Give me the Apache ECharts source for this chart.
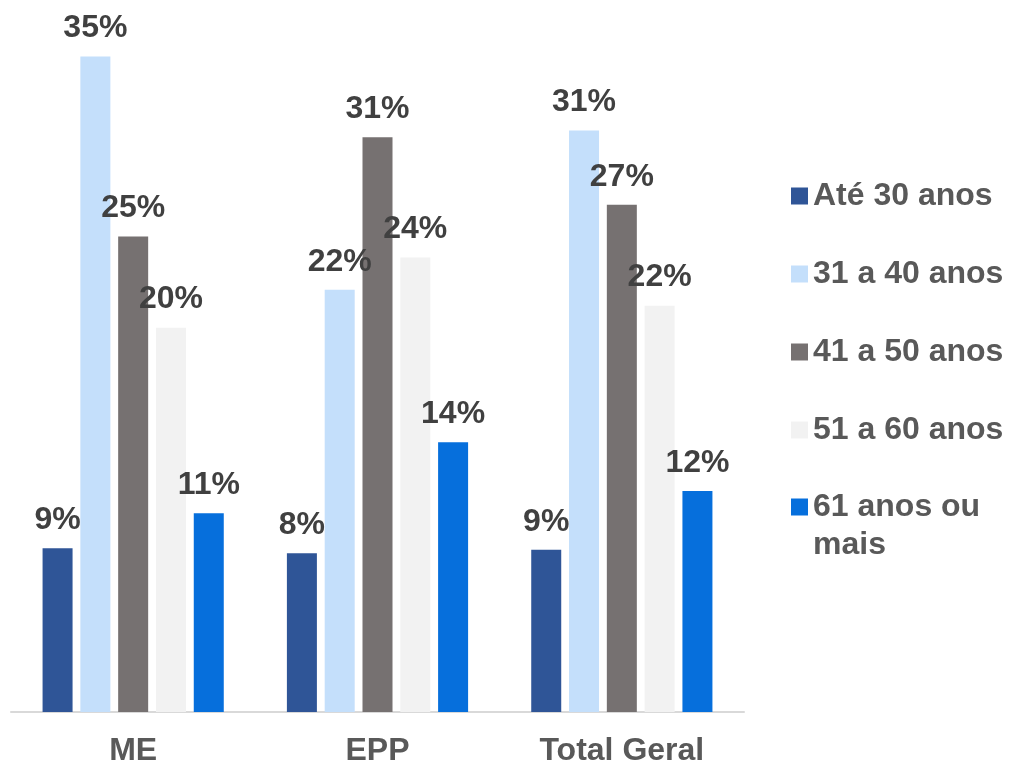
<!DOCTYPE html>
<html>
<head>
<meta charset="utf-8">
<script src="https://cdn.jsdelivr.net/npm/echarts@6/dist/echarts.min.js"></script>
<style>
html,body{margin:0;padding:0;background:#fff;}
#chart{width:1015px;height:767px;}
</style>
</head>
<body>
<div id="chart"></div>
<script>
const categories = ['ME', 'EPP', 'Total Geral'];
const seriesNames = ['Até 30 anos', '31 a 40 anos', '41 a 50 anos', '51 a 60 anos', '61 anos ou mais'];
const ate30 = [8.72, 8.45, 8.63];
const de31a40 = [34.89, 22.47, 30.95];
const de41a50 = [25.31, 30.60, 27.00];
const de51a60 = [20.46, 24.19, 21.63];
const mais61 = [10.58, 14.36, 11.77];
const seriesValues = [ate30, de31a40, de41a50, de51a60, mais61];
const colors = ['#2F5597', '#C4DFFB', '#767171', '#F2F2F2', '#066FDC'];

const FONT = '"Liberation Sans", Arial, sans-serif';

const chart = echarts.init(document.getElementById('chart'));
const series = seriesNames.map((name, i) => ({
  name: name,
  type: 'bar',
  data: seriesValues[i],
  barWidth: 30,
  barGap: '26%',
  itemStyle: { color: colors[i] },
  label: {
    show: true,
    position: 'top',
    distance: 12,
    formatter: p => Math.round(p.value) + '%',
    color: '#404040',
    fontFamily: FONT,
    fontWeight: 'bold',
    fontSize: 32
  }
}));

const legendText = {
  color: '#595959',
  fontFamily: FONT,
  fontWeight: 'bold',
  fontSize: 32,
  lineHeight: 38
};

chart.setOption({
  animation: false,
  backgroundColor: '#ffffff',
  color: colors,
  grid: { left: 11, right: 271, top: 0, bottom: 55, containLabel: false },
  xAxis: {
    type: 'category',
    data: categories,
    axisLine: { show: true, lineStyle: { color: '#D9D9D9', width: 2 } },
    axisTick: { show: false },
    axisLabel: {
      color: '#595959',
      fontFamily: FONT,
      fontWeight: 'bold',
      fontSize: 32,
      margin: 23
    }
  },
  yAxis: {
    type: 'value',
    min: 0,
    max: 37.9,
    show: false,
    splitLine: { show: false }
  },
  legend: [
    {
      orient: 'vertical',
      left: 786,
      top: 172,
      data: seriesNames.slice(0, 4),
      icon: 'rect',
      itemWidth: 17,
      itemHeight: 17,
      itemGap: 40,
      selectedMode: false,
      textStyle: legendText
    },
    {
      orient: 'vertical',
      left: 786,
      top: 445,
      data: seriesNames.slice(4),
      icon: 'rect',
      itemWidth: 17,
      itemHeight: 17,
      selectedMode: false,
      formatter: () => '\n61 anos ou\nmais',
      textStyle: legendText
    }
  ],
  series: series
});
</script>
</body>
</html>
